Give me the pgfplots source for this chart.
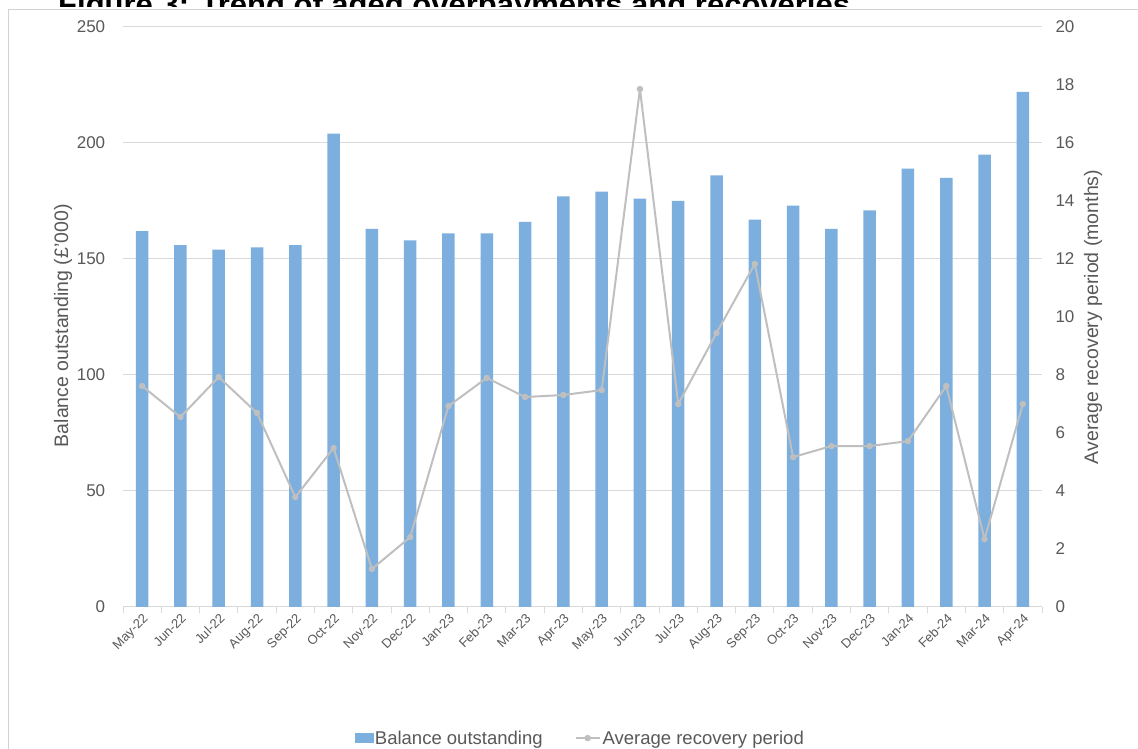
\documentclass[border=0pt]{standalone}
\usepackage{pgfplots}
\usepackage{pgfplotstable}
\pgfplotsset{compat=1.18}
\usepackage{fontspec}
\setmainfont{Liberation Sans}
\definecolor{barblue}{RGB}{124,175,221}
\definecolor{linegray}{RGB}{191,191,191}
\definecolor{txtgray}{RGB}{89,89,89}
\definecolor{gridgray}{RGB}{217,217,217}
\definecolor{framegray}{RGB}{210,210,210}

\pgfplotstableread{
x bal rec
0 162 7.62
1 156 6.55
2 154 7.93
3 155 6.69
4 156 3.79
5 204 5.48
6 163 1.31
7 158 2.41
8 161 6.93
9 161 7.90
10 166 7.24
11 177 7.31
12 179 7.48
13 176 17.86
14 175 7.00
15 186 9.45
16 167 11.83
17 173 5.17
18 163 5.55
19 171 5.55
20 189 5.72
21 185 7.62
22 195 2.34
23 222 7.00
}\data

\begin{document}
\begin{tikzpicture}
\useasboundingbox (0pt,0pt) rectangle (1138pt,749pt);
\node[anchor=base west, font=\fontsize{31}{36}\selectfont\bfseries, inner sep=0pt] at (58pt,733pt) {Figure 3: Trend of aged overpayments and recoveries};
\fill[white] (-5pt,-5pt) rectangle (1150pt,742pt);
\draw[framegray, line width=1pt] (8.5pt,-5pt) rectangle (1150pt,739pt);

\begin{axis}[
  at={(123pt,142pt)}, anchor=south west,
  width=919pt, height=580pt, scale only axis,
  xmin=-0.5, xmax=23.5, ymin=0, ymax=250,
  axis x line*=bottom, axis y line*=left,
  x axis line style={-, draw=gridgray, line width=1pt},
  y axis line style={draw=none},
  xtick={0,...,23},
  xticklabels={May-22,Jun-22,Jul-22,Aug-22,Sep-22,Oct-22,Nov-22,Dec-22,Jan-23,Feb-23,Mar-23,Apr-23,May-23,Jun-23,Jul-23,Aug-23,Sep-23,Oct-23,Nov-23,Dec-23,Jan-24,Feb-24,Mar-24,Apr-24},
  x tick label style={rotate=45, anchor=north east, font=\fontsize{13}{15}\selectfont, text=txtgray, inner sep=1pt},
  major x tick style={draw=none},
  minor xtick={-0.5,0.5,...,23.5},
  minor x tick style={draw=gridgray, line width=1pt},
  minor tick length=6pt,
  tick align=outside,
  ytick={0,50,...,250},
  major y tick style={draw=none},
  y tick label style={font=\fontsize{17}{20}\selectfont, text=txtgray},
  /pgf/number format/assume math mode=true,
  yticklabel shift=10pt,
  ymajorgrids, grid style={gridgray, line width=1pt},
  ylabel={Balance outstanding (£'000)},
  ylabel style={at={(axis description cs:-0.0653,0.485)}, anchor=center, font=\fontsize{19.5}{22}\selectfont, text=txtgray},
]
\addplot[ybar, bar width=12.5pt, fill=barblue, draw=none] table[x=x,y=bal]{\data};
\end{axis}

\begin{axis}[
  at={(123pt,142pt)}, anchor=south west,
  width=919pt, height=580pt, scale only axis,
  xmin=-0.5, xmax=23.5, ymin=0, ymax=20,
  axis x line=none, axis y line*=right,
  y axis line style={draw=none},
  ytick={0,2,...,20},
  major y tick style={draw=none},
  y tick label style={font=\fontsize{17}{20}\selectfont, text=txtgray},
  /pgf/number format/assume math mode=true,
  yticklabel shift=10pt,
  ylabel={Average recovery period (months)},
  ylabel style={at={(axis description cs:1.0555,0.5)}, anchor=center, rotate=0, font=\fontsize{19.5}{22}\selectfont, text=txtgray},
  legend columns=2,
  legend style={at={(axis description cs:0.4975,-0.226)}, anchor=center, draw=none, fill=none,
    font=\fontsize{18.5}{21}\selectfont, text=txtgray,
    /tikz/every even column/.append style={column sep=30pt}},
]
\addlegendimage{legend image code/.code={\fill[barblue] (0pt,-4.5pt) rectangle (18pt,4.5pt);}}
\addplot[linegray, line width=2pt, line join=round, mark=*, mark size=2.2pt, mark options={fill=linegray, draw=linegray},
  legend image code/.code={\draw[linegray, line width=2pt] (-4pt,0pt) -- (20pt,0pt); \fill[linegray] (8pt,0pt) circle (2.2pt);}] table[x=x,y=rec]{\data};
\legend{Balance outstanding, Average recovery period}
\end{axis}
\end{tikzpicture}
\end{document}
